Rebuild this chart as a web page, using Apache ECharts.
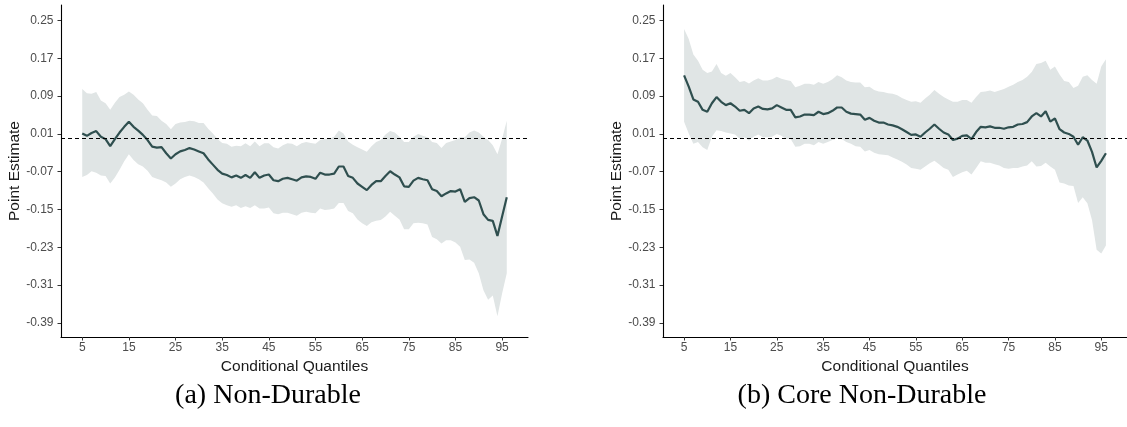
<!DOCTYPE html>
<html>
<head>
<meta charset="utf-8">
<title>Quantile point estimates</title>
<script src="https://cdn.jsdelivr.net/npm/echarts@6/dist/echarts.min.js"></script>
<style>
  html, body { margin: 0; padding: 0; background: #ffffff; }
  #chart { width: 1127px; height: 427px; }
</style>
</head>
<body>
<div id="chart"></div>
<script>
// Conditional quantiles (x positions shared by both panels)
const quantiles = [5,6,7,8,9,10,11,12,13,14,15,16,17,18,19,20,21,22,23,24,25,26,27,28,29,30,31,32,33,34,35,36,37,38,39,40,41,42,43,44,45,46,47,48,49,50,51,52,53,54,55,56,57,58,59,60,61,62,63,64,65,66,67,68,69,70,71,72,73,74,75,76,77,78,79,80,81,82,83,84,85,86,87,88,89,90,91,92,93,94,95,96];

// Tick labels
const xTicks = [5, 15, 25, 35, 45, 55, 65, 75, 85, 95];
const yTicks = [-0.39, -0.31, -0.23, -0.15, -0.07, 0.01, 0.09, 0.17, 0.25];

// (a) Non-Durable: point estimate and confidence band
const ndEstimate = [0.011,0.006,0.012,0.016,0.004,-0.001,-0.016,-0.001,0.013,0.025,0.036,0.025,0.017,0.008,-0.003,-0.017,-0.019,-0.018,-0.031,-0.042,-0.033,-0.027,-0.024,-0.020,-0.023,-0.027,-0.031,-0.044,-0.055,-0.066,-0.074,-0.077,-0.082,-0.078,-0.083,-0.077,-0.083,-0.071,-0.083,-0.078,-0.076,-0.088,-0.090,-0.085,-0.083,-0.086,-0.089,-0.082,-0.080,-0.081,-0.085,-0.072,-0.076,-0.076,-0.074,-0.059,-0.059,-0.079,-0.083,-0.095,-0.102,-0.109,-0.098,-0.090,-0.090,-0.079,-0.069,-0.076,-0.082,-0.101,-0.102,-0.089,-0.083,-0.086,-0.088,-0.107,-0.111,-0.122,-0.116,-0.111,-0.112,-0.107,-0.134,-0.126,-0.124,-0.131,-0.160,-0.172,-0.174,-0.206,-0.165,-0.124];
const ndUpper = [0.105,0.096,0.095,0.099,0.081,0.075,0.061,0.076,0.088,0.093,0.100,0.093,0.083,0.075,0.061,0.049,0.048,0.038,0.031,0.020,0.031,0.034,0.035,0.038,0.037,0.033,0.033,0.021,0.011,-0.001,-0.009,-0.011,-0.017,-0.015,-0.016,-0.010,-0.016,-0.006,-0.016,-0.010,-0.010,-0.018,-0.021,-0.014,-0.010,-0.011,-0.016,-0.010,-0.007,-0.009,-0.011,-0.003,-0.001,0.000,0.004,0.017,0.011,-0.006,-0.013,-0.018,-0.023,-0.028,-0.016,-0.007,-0.003,0.009,0.016,0.013,0.004,-0.007,-0.007,0.004,0.010,0.006,0.003,-0.007,-0.009,-0.020,-0.009,-0.006,-0.003,0.003,0.003,0.013,0.017,0.013,0.004,-0.003,-0.014,-0.033,0.000,0.038];
const ndLower = [-0.081,-0.077,-0.069,-0.072,-0.078,-0.079,-0.095,-0.082,-0.066,-0.048,-0.033,-0.045,-0.054,-0.059,-0.068,-0.081,-0.085,-0.088,-0.093,-0.102,-0.095,-0.086,-0.081,-0.078,-0.081,-0.086,-0.093,-0.105,-0.116,-0.129,-0.137,-0.141,-0.144,-0.141,-0.147,-0.143,-0.147,-0.141,-0.148,-0.148,-0.146,-0.158,-0.160,-0.157,-0.157,-0.160,-0.163,-0.157,-0.155,-0.157,-0.158,-0.148,-0.151,-0.150,-0.148,-0.136,-0.136,-0.153,-0.158,-0.171,-0.179,-0.185,-0.177,-0.174,-0.172,-0.165,-0.155,-0.163,-0.171,-0.192,-0.192,-0.179,-0.178,-0.179,-0.182,-0.208,-0.213,-0.222,-0.215,-0.215,-0.220,-0.229,-0.257,-0.256,-0.263,-0.285,-0.321,-0.341,-0.332,-0.376,-0.328,-0.285];

// (b) Core Non-Durable: point estimate and confidence band
const cndEstimate = [0.134,0.110,0.083,0.078,0.061,0.057,0.075,0.088,0.078,0.071,0.075,0.068,0.059,0.061,0.054,0.064,0.068,0.063,0.062,0.064,0.071,0.066,0.061,0.061,0.045,0.047,0.051,0.051,0.050,0.057,0.052,0.054,0.059,0.066,0.066,0.057,0.053,0.052,0.051,0.040,0.044,0.038,0.034,0.034,0.030,0.028,0.025,0.020,0.014,0.008,0.009,0.004,0.013,0.021,0.030,0.021,0.013,0.009,-0.003,0.000,0.006,0.007,-0.001,0.014,0.025,0.024,0.026,0.023,0.023,0.021,0.024,0.025,0.030,0.031,0.035,0.047,0.054,0.047,0.058,0.036,0.043,0.020,0.013,0.010,0.004,-0.013,0.003,-0.004,-0.028,-0.061,-0.047,-0.031];
const cndUpper = [0.232,0.211,0.178,0.165,0.146,0.139,0.142,0.158,0.139,0.133,0.139,0.130,0.120,0.122,0.117,0.123,0.128,0.123,0.123,0.126,0.131,0.127,0.124,0.122,0.109,0.112,0.116,0.116,0.114,0.120,0.116,0.120,0.126,0.134,0.130,0.123,0.120,0.119,0.119,0.109,0.110,0.103,0.100,0.099,0.096,0.095,0.092,0.086,0.082,0.078,0.079,0.076,0.085,0.093,0.103,0.095,0.088,0.083,0.078,0.078,0.082,0.082,0.076,0.088,0.099,0.100,0.102,0.099,0.102,0.105,0.110,0.114,0.120,0.124,0.131,0.141,0.158,0.160,0.165,0.146,0.153,0.136,0.122,0.120,0.107,0.112,0.131,0.134,0.124,0.116,0.153,0.168];
const cndLower = [0.036,0.011,-0.011,-0.007,-0.018,-0.024,0.004,0.018,0.016,0.013,0.011,0.009,0.000,0.003,-0.004,0.004,0.009,0.003,0.003,0.004,0.010,0.006,-0.001,-0.001,-0.017,-0.016,-0.011,-0.011,-0.014,-0.007,-0.011,-0.007,-0.003,0.000,-0.001,-0.007,-0.011,-0.016,-0.017,-0.027,-0.024,-0.030,-0.033,-0.034,-0.035,-0.040,-0.044,-0.049,-0.055,-0.062,-0.064,-0.066,-0.059,-0.052,-0.047,-0.054,-0.062,-0.066,-0.081,-0.076,-0.071,-0.068,-0.076,-0.062,-0.048,-0.051,-0.051,-0.054,-0.057,-0.062,-0.064,-0.062,-0.062,-0.059,-0.057,-0.048,-0.059,-0.058,-0.051,-0.059,-0.066,-0.093,-0.095,-0.099,-0.100,-0.136,-0.124,-0.137,-0.172,-0.235,-0.243,-0.226];

const captions = ['(a) Non-Durable', '(b) Core Non-Durable'];

const LINE_COLOR = '#2f4f4f';
const BAND_COLOR = '#e0e5e5';
const SANS = '"Liberation Sans", Arial, Helvetica, sans-serif';
const SERIF = '"Liberation Serif", "Times New Roman", serif';

const grids = [
  { left: 61, top: 5, width: 467, height: 332 },
  { left: 663, top: 5, width: 467, height: 332 }
];

function pairs(values) {
  return quantiles.map((q, i) => [q, values[i]]);
}

function xAxisFor(idx) {
  return {
    type: 'value', gridIndex: idx, min: 0.45, max: 100.55,
    splitLine: { show: false },
    axisLine: { show: true, onZero: false, lineStyle: { color: '#000', width: 1.1 } },
    axisTick: { show: true, length: 3.5, customValues: xTicks, lineStyle: { color: '#333' } },
    axisLabel: { customValues: xTicks, color: '#4d4d4d', fontFamily: SANS, fontSize: 12, margin: 5 },
    name: 'Conditional Quantiles', nameLocation: 'middle', nameGap: 15,
    nameTextStyle: { color: '#1a1a1a', fontFamily: SANS, fontSize: 15.5 }
  };
}
function yAxisFor(idx) {
  return {
    type: 'value', gridIndex: idx, min: -0.42, max: 0.283,
    splitLine: { show: false },
    axisLine: { show: true, onZero: false, lineStyle: { color: '#000', width: 1.1 } },
    axisTick: { show: true, length: 3.5, customValues: yTicks, lineStyle: { color: '#333' } },
    axisLabel: { customValues: yTicks, color: '#4d4d4d', fontFamily: SANS, fontSize: 12, margin: 7.5,
      formatter: v => v.toFixed(2) },
    name: 'Point Estimate', nameLocation: 'middle', nameRotate: 90, nameGap: 36,
    nameTextStyle: { color: '#1a1a1a', fontFamily: SANS, fontSize: 15.5 }
  };
}

// Confidence band: one polygon through the upper bounds and back along the lower bounds
function bandSeries(idx, upper, lower) {
  return {
    type: 'custom', xAxisIndex: idx, yAxisIndex: idx, silent: true, z: 1,
    data: quantiles.map((q, i) => [q, lower[i], upper[i]]),
    encode: { x: 0, y: [1, 2] },
    renderItem: function (params, api) {
      if (params.dataIndex !== 0) return null;
      const top = [], bottom = [];
      for (let i = 0; i < quantiles.length; i++) {
        top.push(api.coord([quantiles[i], upper[i]]));
        bottom.push(api.coord([quantiles[i], lower[i]]));
      }
      return {
        type: 'polygon',
        shape: { points: top.concat(bottom.reverse()) },
        style: { fill: BAND_COLOR, stroke: null }
      };
    }
  };
}

function estimateSeries(idx, est) {
  return {
    type: 'line', xAxisIndex: idx, yAxisIndex: idx,
    data: pairs(est), symbol: 'none', silent: true,
    lineStyle: { color: LINE_COLOR, width: 2.2 }, z: 3,
    markLine: {
      silent: true, symbol: ['none', 'none'], label: { show: false },
      lineStyle: { color: '#000', type: [4, 3], width: 1 },
      data: [{ yAxis: 0 }]
    }
  };
}

const chart = echarts.init(document.getElementById('chart'), null, { renderer: 'canvas' });
chart.setOption({
  animation: false,
  backgroundColor: '#ffffff',
  grid: grids,
  xAxis: [xAxisFor(0), xAxisFor(1)],
  yAxis: [yAxisFor(0), yAxisFor(1)],
  series: [
    bandSeries(0, ndUpper, ndLower),
    estimateSeries(0, ndEstimate),
    bandSeries(1, cndUpper, cndLower),
    estimateSeries(1, cndEstimate)
  ],
  graphic: [
    { type: 'text', x: 268, y: 396, style: { text: captions[0], font: '28px ' + SERIF, fill: '#000', textAlign: 'center', textVerticalAlign: 'middle' } },
    { type: 'text', x: 862, y: 396, style: { text: captions[1], font: '28px ' + SERIF, fill: '#000', textAlign: 'center', textVerticalAlign: 'middle' } }
  ]
});
</script>
</body>
</html>
